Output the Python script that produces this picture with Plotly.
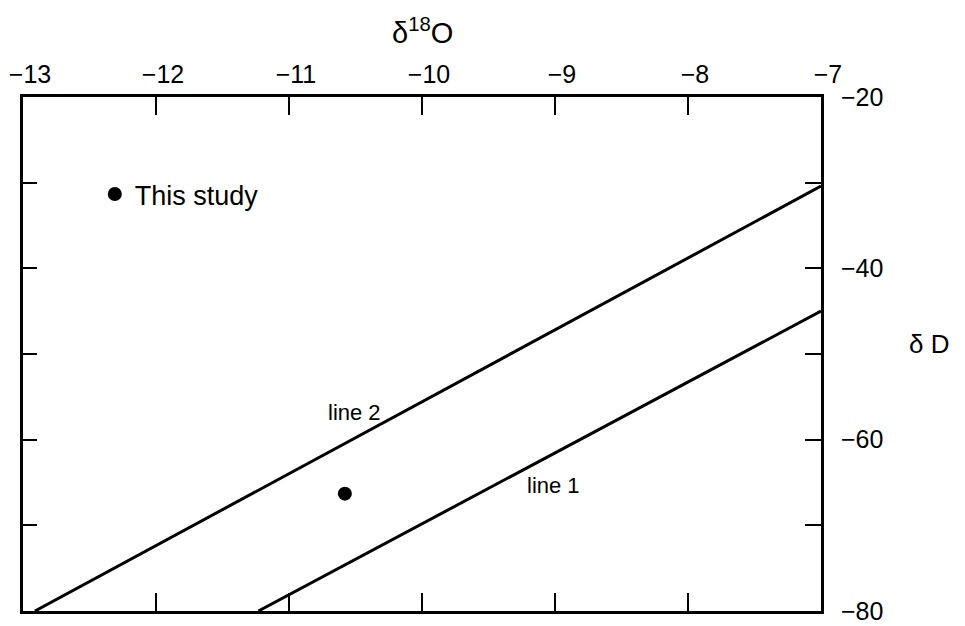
import plotly.graph_objects as go

# ---- data ----
x_ticks = [-13, -12, -11, -10, -9, -8, -7]
x_ticklabels = ["−13", "−12", "−11", "−10", "−9", "−8", "−7"]
y_ticks = [-80, -70, -60, -50, -40, -30, -20]
y_label_ticks = [-80, -60, -40, -20]
y_ticklabels = ["−80", "−60", "−40", "−20"]

line1_x = [-11.23, -7.0]
line1_y = [-80.0, -45.0]
line2_x = [-12.91, -7.0]
line2_y = [-80.0, -30.4]

study_x = [-10.58]
study_y = [-66.3]

line_labels = ["line 2", "line 1"]
line_label_x = [-10.51, -9.01]
line_label_y = [-56.8, -65.4]

FONT = "Liberation Sans, Arial, sans-serif"
BLACK = "#000000"

fig = go.Figure()

fig.add_trace(go.Scatter(x=line1_x, y=line1_y, mode="lines",
                         line=dict(color=BLACK, width=3), showlegend=False,
                         hoverinfo="skip"))
fig.add_trace(go.Scatter(x=line2_x, y=line2_y, mode="lines",
                         line=dict(color=BLACK, width=3), showlegend=False,
                         hoverinfo="skip"))
fig.add_trace(go.Scatter(x=study_x, y=study_y, mode="markers", name="This study",
                         marker=dict(color=BLACK, size=14), showlegend=True))
# invisible trace for top x axis / right y axis
fig.add_trace(go.Scatter(x=[x_ticks[0], x_ticks[-1]], y=[y_ticks[0], y_ticks[-1]],
                         xaxis="x2", yaxis="y2", mode="markers",
                         marker=dict(opacity=0), showlegend=False, hoverinfo="skip"))

for t, x, y in zip(line_labels, line_label_x, line_label_y):
    fig.add_annotation(x=x, y=y, text=t, showarrow=False,
                       font=dict(family=FONT, size=22, color=BLACK))

# axis titles
fig.add_annotation(x=0.5, y=1, xref="paper", yref="paper", yanchor="bottom",
                   yshift=46, text="δ<sup>18</sup>O", showarrow=False,
                   font=dict(family=FONT, size=29, color=BLACK))
fig.add_annotation(x=1, y=0.5, xref="paper", yref="paper", xanchor="left",
                   xshift=86, yshift=10, text="δ D", showarrow=False,
                   font=dict(family=FONT, size=26, color=BLACK))

axis_common = dict(showgrid=False, zeroline=False, showline=True,
                   linecolor=BLACK, linewidth=3, ticks="inside",
                   tickcolor=BLACK, tickwidth=2, automargin=False)

# page body has an 8px default margin, so the figure is 8px smaller
fig.update_layout(
    width=957, height=618,
    margin=dict(l=15, r=144, t=89, b=15),
    paper_bgcolor="white", plot_bgcolor="white",
    font=dict(family=FONT, size=25, color=BLACK),
    xaxis=dict(range=[-13, -7], tickvals=x_ticks, showticklabels=False,
               ticklen=18, **axis_common),
    xaxis2=dict(range=[-13, -7], overlaying="x", side="top", tickvals=x_ticks,
                ticktext=x_ticklabels, ticklen=18, tickfont=dict(size=25),
                ticklabelstandoff=1, ticklabelshift=7,
                ticklabeloverflow="allow", **axis_common),
    yaxis=dict(range=[-80, -20], tickvals=y_ticks, showticklabels=False,
               ticklen=14, **axis_common),
    yaxis2=dict(range=[-80, -20], overlaying="y", side="right",
                tickvals=y_label_ticks, ticktext=y_ticklabels, ticklen=16,
                tickfont=dict(size=25), ticklabelstandoff=12,
                ticklabeloverflow="allow",
                minor=dict(tickvals=y_ticks, ticks="inside", ticklen=16,
                           tickwidth=2, tickcolor=BLACK, showgrid=False),
                **axis_common),
    legend=dict(x=0.09, y=0.858, xanchor="left", yanchor="top",
                bgcolor="rgba(0,0,0,0)", borderwidth=0,
                font=dict(family=FONT, size=27, color=BLACK)),
    showlegend=True,
)

fig.write_html("out.html")
